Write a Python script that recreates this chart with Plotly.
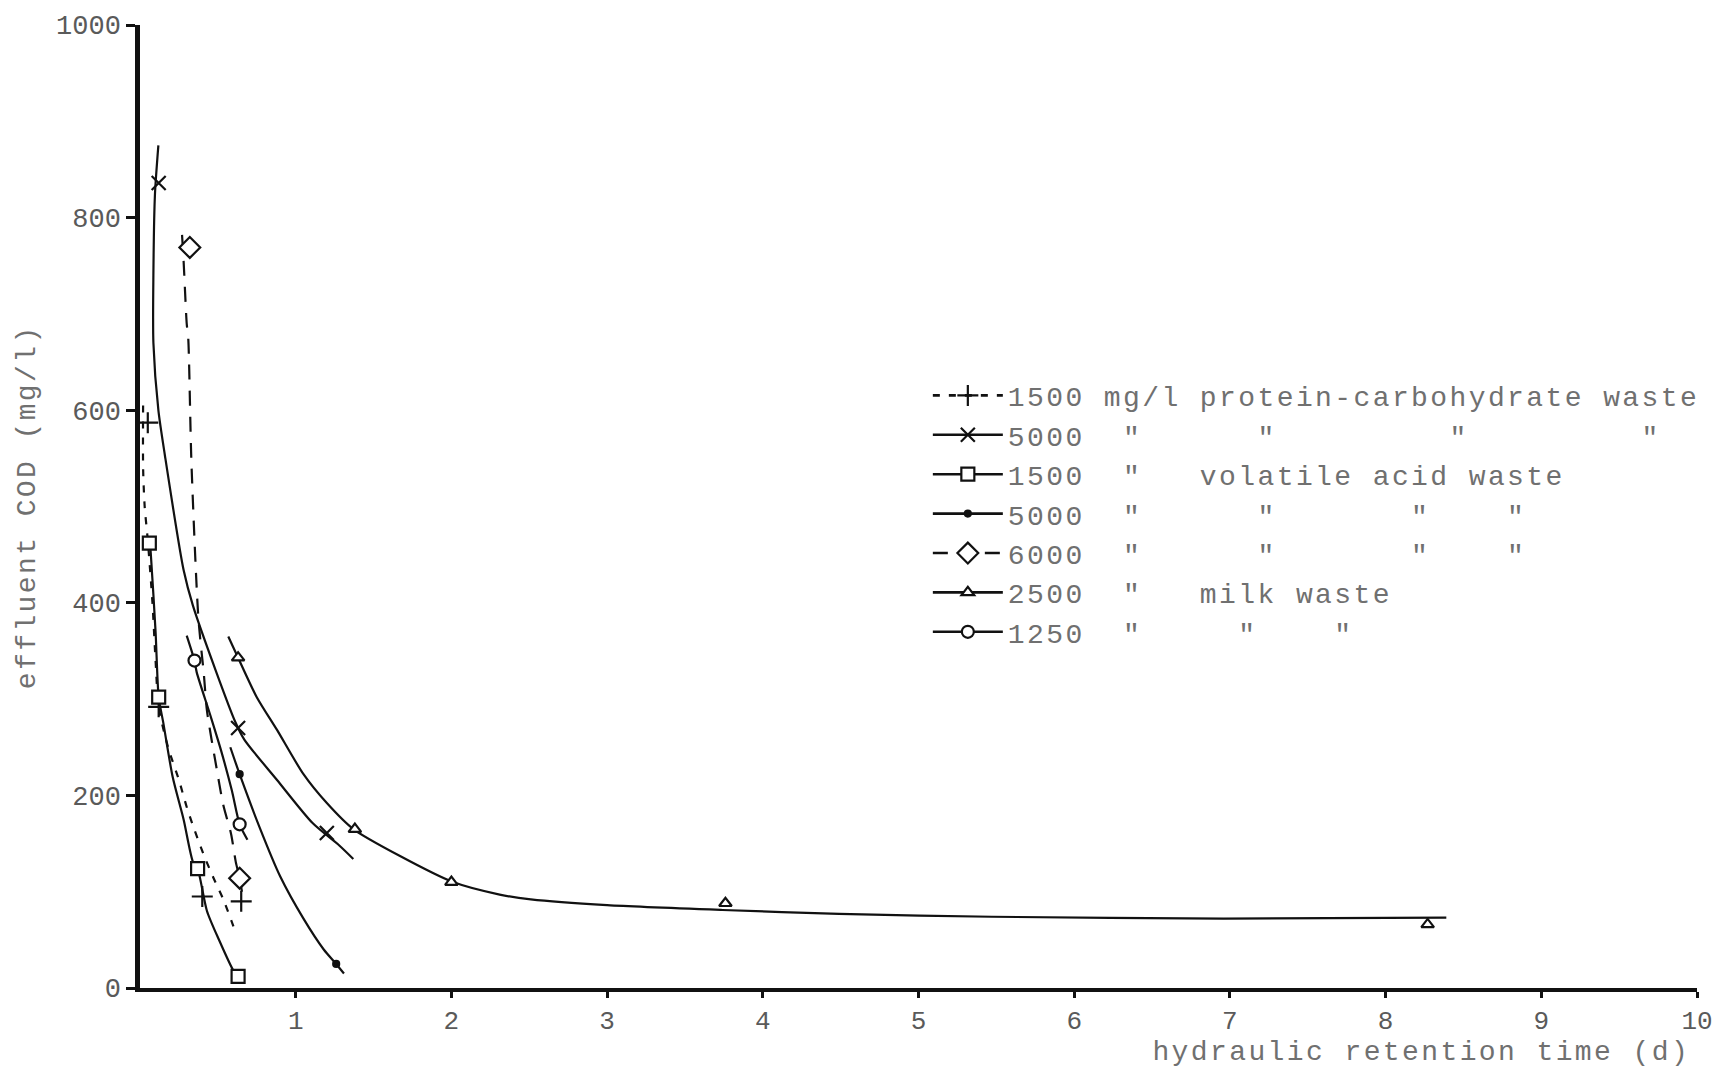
import plotly.graph_objects as go

FONT = "Liberation Mono, DejaVu Sans Mono, monospace"
INK = "#111111"
TEXT_GREY = "#707070"

# ---- measured data points (hydraulic retention time in d, effluent COD in mg/l) ----
pc1500_x = [0.05, 0.12, 0.40, 0.65]          # 1500 mg/l protein-carbohydrate waste
pc1500_y = [587, 292, 95, 90]
pc5000_x = [0.12, 0.63, 1.20]                # 5000 mg/l protein-carbohydrate waste
pc5000_y = [836, 270, 161]
va1500_x = [0.06, 0.12, 0.37, 0.63]          # 1500 mg/l volatile acid waste
va1500_y = [462, 302, 124, 12]
va5000_x = [0.64, 1.26]                      # 5000 mg/l volatile acid waste
va5000_y = [222, 25]
va6000_x = [0.32, 0.64]                      # 6000 mg/l volatile acid waste
va6000_y = [769, 114]
mk2500_x = [0.63, 1.38, 2.00, 3.76, 8.27]    # 2500 mg/l milk waste
mk2500_y = [343, 165, 110, 88, 66]
mk1250_x = [0.35, 0.64]                      # 1250 mg/l milk waste
mk1250_y = [340, 170]

# ---- hand-fitted trend curves ----
pc1500_fit_x = [0.02, 0.02, 0.03, 0.05, 0.08, 0.10, 0.12, 0.18, 0.25, 0.30, 0.335, 0.41, 0.47, 0.535, 0.60]
pc1500_fit_y = [605, 540, 500, 465, 400, 340, 292, 250, 216, 188, 171, 138, 115, 92, 64]
pc5000_fit_x = [0.118, 0.096, 0.086, 0.086, 0.118, 0.16, 0.28, 0.34, 0.49, 0.61, 0.67, 0.88, 1.11, 1.28, 1.37]
pc5000_fit_y = [875, 824, 740, 670, 600, 553, 434, 397, 328, 277, 258, 216, 171, 148, 134]
va1500_fit_x = [0.064, 0.069, 0.10, 0.12, 0.15, 0.21, 0.28, 0.34, 0.37, 0.43, 0.51, 0.60, 0.63]
va1500_fit_y = [462, 452, 370, 302, 275, 219, 175, 131, 124, 80, 49, 18, 12]
va5000_fit_x = [0.58, 0.64, 0.77, 0.90, 1.05, 1.18, 1.26, 1.31]
va5000_fit_y = [250, 222, 166, 116, 72, 40, 25, 15]
va6000_fit_x = [0.27, 0.28, 0.30, 0.31, 0.33, 0.375, 0.41, 0.43, 0.49, 0.535, 0.585, 0.615, 0.64, 0.655]
va6000_fit_y = [782, 755, 690, 674, 547, 384, 326, 288, 230, 190, 160, 131, 114, 100]
mk2500_fit_x = [0.567, 0.63, 0.75, 0.88, 1.05, 1.20, 1.37, 1.67, 2.01, 2.31, 2.51, 3.0, 3.74, 4.49, 5.47, 6.96, 8.39]
mk2500_fit_y = [365, 343, 302, 268, 222, 192, 165, 137, 110, 97, 92, 86, 81, 77, 74, 72, 73]
mk1250_fit_x = [0.30, 0.35, 0.364, 0.45, 0.52, 0.59, 0.64, 0.69]
mk1250_fit_y = [366, 340, 328, 284, 247, 205, 170, 154]

# ---- legend labels (typed in fixed-width columns) ----
label_pc1500 = '1500 mg/l protein-carbohydrate waste'
label_pc5000 = '5000  "      "         "         "'
label_va1500 = '1500  "   volatile acid waste'
label_va5000 = '5000  "      "       "    "'
label_va6000 = '6000  "      "       "    "'
label_mk2500 = '2500  "   milk waste'
label_mk1250 = '1250  "     "    "'

series = [
    dict(label=label_pc1500, x=pc1500_x, y=pc1500_y, fx=pc1500_fit_x, fy=pc1500_fit_y,
         dash="7px,9px", symbol="cross-thin", size=15, fill=INK),
    dict(label=label_pc5000, x=pc5000_x, y=pc5000_y, fx=pc5000_fit_x, fy=pc5000_fit_y,
         dash="solid", symbol="x-thin", size=14, fill=INK),
    dict(label=label_va1500, x=va1500_x, y=va1500_y, fx=va1500_fit_x, fy=va1500_fit_y,
         dash="solid", symbol="square", size=13, fill="white"),
    dict(label=label_va5000, x=va5000_x, y=va5000_y, fx=va5000_fit_x, fy=va5000_fit_y,
         dash="solid", symbol="circle", size=6, fill=INK),
    dict(label=label_va6000, x=va6000_x, y=va6000_y, fx=va6000_fit_x, fy=va6000_fit_y,
         dash="15px,11px", symbol="diamond", size=16, fill="white"),
    dict(label=label_mk2500, x=mk2500_x, y=mk2500_y, fx=mk2500_fit_x, fy=mk2500_fit_y,
         dash="solid", symbol="triangle-up", size=11, fill="white"),
    dict(label=label_mk1250, x=mk1250_x, y=mk1250_y, fx=mk1250_fit_x, fy=mk1250_fit_y,
         dash="solid", symbol="circle", size=12, fill="white"),
]

fig = go.Figure()

for s in series:
    marker = dict(symbol=s["symbol"], size=s["size"], color=s["fill"],
                  line=dict(color=INK, width=2.2))
    # trend curve
    fig.add_trace(go.Scatter(
        x=s["fx"], y=s["fy"], mode="lines", showlegend=False, hoverinfo="skip",
        line=dict(color=INK, width=2.2, dash=s["dash"], shape="spline", smoothing=0.7),
    ))
    # measured points
    fig.add_trace(go.Scatter(
        x=s["x"], y=s["y"], mode="markers", showlegend=False, marker=marker,
    ))
    # legend entry
    fig.add_trace(go.Scatter(
        x=[None], y=[None], mode="lines+markers", name=s["label"].replace(" ", "\u00a0"),
        line=dict(color=INK, width=2.6, dash=s["dash"]), marker=marker,
    ))

x_ticks = [1, 2, 3, 4, 5, 6, 7, 8, 9, 10]
y_ticks = [0, 200, 400, 600, 800, 1000]

fig.update_layout(
    width=1733, height=1071,
    margin=dict(l=140, r=36, t=20, b=83),
    paper_bgcolor="white", plot_bgcolor="white",
    font=dict(family=FONT, size=28, color=TEXT_GREY),
    showlegend=True,
    legend=dict(
        x=0.506, y=0.641, xanchor="left", yanchor="top",
        bgcolor="rgba(0,0,0,0)", itemwidth=70,
        font=dict(family=FONT, size=28, color=TEXT_GREY),
        itemclick=False, itemdoubleclick=False,
    ),
    xaxis=dict(
        range=[0, 10], tickvals=x_ticks, ticktext=[str(v) for v in x_ticks],
        showgrid=False, zeroline=False, showline=True, linecolor=INK, linewidth=4,
        ticks="outside", ticklen=6, tickwidth=2.5, tickcolor=INK,
        tickfont=dict(family=FONT, size=26, color="#5a5a5a"),
    ),
    yaxis=dict(
        range=[0, 1000], tickvals=y_ticks, ticktext=[str(v) for v in y_ticks],
        showgrid=False, zeroline=False, showline=True, linecolor=INK, linewidth=4.5,
        ticks="outside", ticklen=9, tickwidth=2.5, tickcolor=INK,
        tickfont=dict(family=FONT, size=27, color="#5a5a5a"),
    ),
    annotations=[
        dict(text="effluent COD (mg/l)", xref="paper", yref="paper", x=-0.072, y=0.5,
             xanchor="center", yanchor="middle", textangle=-90, showarrow=False,
             font=dict(family=FONT, size=28, color=TEXT_GREY)),
        dict(text="hydraulic retention time (d)", xref="paper", yref="paper", x=0.8227, y=-0.067,
             xanchor="center", yanchor="middle", showarrow=False,
             font=dict(family=FONT, size=28, color=TEXT_GREY)),
    ],
)

# widen the typewriter-style text spacing once the figure is drawn,
# and let the wider legend text run past the legend's measured box
spacing_js = """
var gd = document.getElementById('{plot_id}');
function spaceText() {
  gd.querySelectorAll('.legendtext, .annotation-text').forEach(function (t) {
    t.style.letterSpacing = '2.4px';
  });
  gd.querySelectorAll('.legend .scrollbox').forEach(function (g) {
    g.removeAttribute('clip-path');
  });
}
spaceText();
gd.on('plotly_afterplot', spaceText);
"""

fig.write_html("out.html", post_script=spacing_js)
